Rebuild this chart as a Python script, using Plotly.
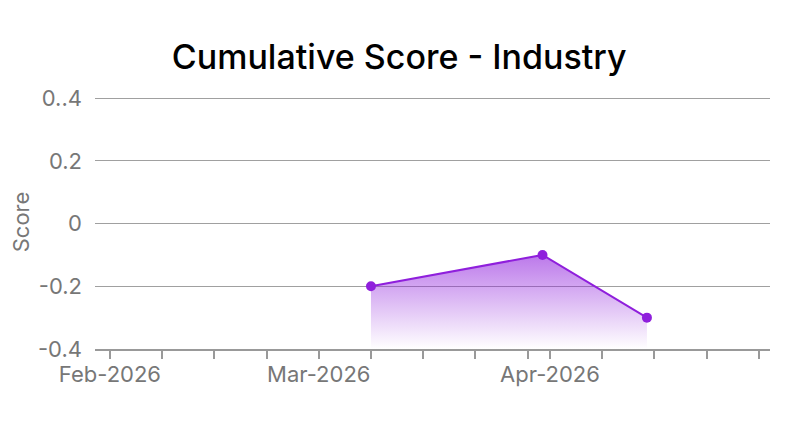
import plotly.graph_objects as go

# data
dates = ["2026-03-08", "2026-03-31", "2026-04-14"]
scores = [-0.2, -0.1, -0.3]

y_ticks = [-0.4, -0.2, 0, 0.2, 0.4]
y_labels = ["-0.4", "-0.2", "0", "0.2", "0..4"]

x_ticks = ["2026-02-01", "2026-02-08", "2026-02-15", "2026-02-22",
           "2026-03-01", "2026-03-08", "2026-03-15", "2026-03-22", "2026-03-29",
           "2026-04-01", "2026-04-08", "2026-04-15", "2026-04-22", "2026-04-29"]
x_labels = ["Feb-2026", "", "", "",
            "Mar-2026", "", "", "", "",
            "Apr-2026", "", "", "", ""]

purple = "#8f1fdc"
grey = "#777777"

fig = go.Figure()
# baseline for the fill
fig.add_trace(go.Scatter(x=dates, y=[y_ticks[0]] * len(dates), mode="lines",
                         line=dict(width=0), hoverinfo="skip", showlegend=False))
fig.add_trace(go.Scatter(
    x=dates, y=scores, mode="lines+markers", fill="tonexty",
    line=dict(color=purple, width=2),
    marker=dict(color=purple, size=10),
    fillgradient=dict(type="vertical", start=-0.4, stop=-0.1,
                      colorscale=[[0, "rgba(143,31,220,0.0)"],
                                  [1, "rgba(143,31,220,0.6)"]]),
    showlegend=False))

# page body adds an 8px offset, margins account for it
fig.update_layout(
    width=800, height=431,
    margin=dict(l=87, r=38, t=87, b=90),
    paper_bgcolor="white", plot_bgcolor="white",
    font=dict(family="Inter", color=grey, size=22),
    title=dict(text="Cumulative Score - Industry", x=0.489, xanchor="center",
               y=0.886, yanchor="middle",
               font=dict(family="Inter", size=34, color="black", weight=500)),
)
fig.update_xaxes(
    type="date", range=["2026-01-30", "2026-04-30 12:00"],
    tickvals=x_ticks, ticktext=x_labels, automargin=False,
    showgrid=False, showline=True, linecolor="#999", linewidth=2,
    ticks="outside", ticklen=8, tickwidth=2, tickcolor="#999",
    ticklabelstandoff=-3,
    tickfont=dict(size=22, color=grey),
)
fig.update_yaxes(
    range=[-0.4, 0.41], tickvals=y_ticks, ticktext=y_labels, automargin=False,
    showgrid=True, gridcolor="#a0a0a0", gridwidth=1,
    zeroline=False, ticks="", ticklabelstandoff=12,
    title=dict(text="Score", font=dict(size=22, color=grey), standoff=14),
    tickfont=dict(size=22, color=grey),
)

fig.write_html("out.html")
